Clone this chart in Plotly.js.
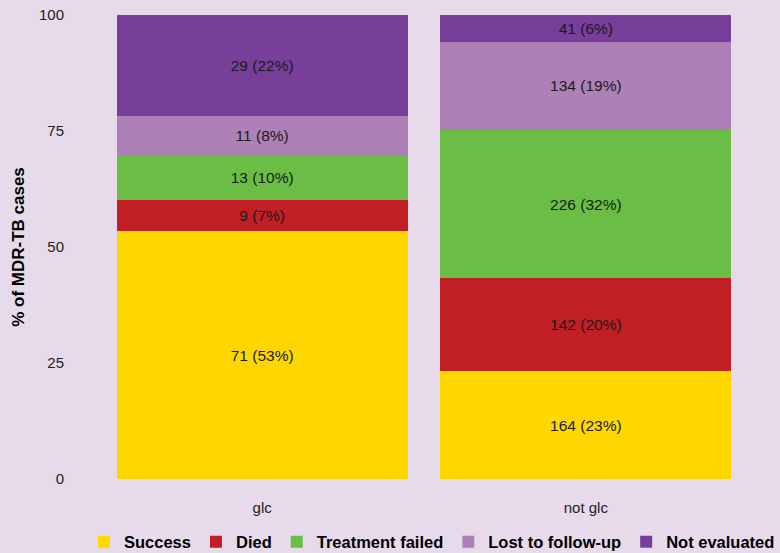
<!DOCTYPE html>
<html>
<head>
<meta charset="utf-8">
<script src="https://cdn.plot.ly/plotly-3.0.1.min.js"></script>
<style>html,body{margin:0;padding:0;background:#E6DAEB;}</style>
</head>
<body>
<div id="chart" style="width:780px;height:553px;"></div>
<script>
const categories = ["glc", "not glc"];
const outcomes = ["Success", "Died", "Treatment failed", "Lost to follow-up", "Not evaluated"];
const colors = ["#FFD700", "#C01F26", "#6ABD45", "#AE80B8", "#773F9A"];
const success = [71, 164];
const died = [9, 142];
const failed = [13, 226];
const lost = [11, 134];
const notEvaluated = [29, 41];
const counts = [success, died, failed, lost, notEvaluated];
const yTicks = [0, 25, 50, 75, 100];

const FONT = "'Liberation Sans', Arial, sans-serif";
const totals = categories.map((c, i) => counts.reduce((s, arr) => s + arr[i], 0));

const traces = outcomes.map((name, k) => {
  const pct = counts[k].map((v, i) => 100 * v / totals[i]);
  return {
    type: "bar",
    name: name,
    x: categories,
    y: pct,
    text: counts[k].map((v, i) => v + " (" + Math.round(pct[i]) + "%)"),
    textposition: "inside",
    insidetextanchor: "middle",
    textangle: 0,
    constraintext: "none",
    textfont: {family: FONT, size: 15.5, color: "#1a1a1a"},
    marker: {color: colors[k], line: {width: 0}},
    width: 0.9,
    hoverinfo: "none"
  };
});

const layout = {
  width: 780,
  height: 553,
  barmode: "stack",
  paper_bgcolor: "#E6DAEB",
  plot_bgcolor: "#E6DAEB",
  font: {family: FONT, size: 15, color: "#222222"},
  margin: {l: 68, r: 0, t: 15, b: 74, pad: 0, autoexpand: false},
  showlegend: true,
  legend: {
    orientation: "h",
    x: 1.0, xanchor: "right",
    y: -0.136, yanchor: "middle",
    font: {size: 16.5, color: "#000000", family: FONT, weight: "bold"},
    traceorder: "normal",
    itemclick: false,
    borderwidth: 0,
    bgcolor: "rgba(0,0,0,0)"
  },
  xaxis: {
    type: "category",
    range: [-0.6, 1.6],
    showgrid: true,
    gridcolor: "#E0E0E4",
    gridwidth: 1,
    zeroline: false,
    showline: false,
    ticks: "",
    ticklabelstandoff: 18,
    tickfont: {size: 15, color: "#222222"},
    fixedrange: true
  },
  yaxis: {
    range: [0, 100],
    tickvals: yTicks,
    ticktext: yTicks.map(String),
    showgrid: true,
    gridcolor: "#E0E0E4",
    gridwidth: 1,
    minor: {dtick: 12.5, showgrid: true, gridcolor: "#E0E0E4", gridwidth: 1},
    zeroline: false,
    showline: false,
    ticks: "",
    ticklabelstandoff: 3,
    tickfont: {size: 15, color: "#222222"},
    title: {text: "% of MDR-TB cases", font: {size: 17, color: "#000000", weight: "bold"}, standoff: 10},
    fixedrange: true
  }
};

Plotly.newPlot("chart", traces, layout, {displayModeBar: false, staticPlot: true});
</script>
</body>
</html>
